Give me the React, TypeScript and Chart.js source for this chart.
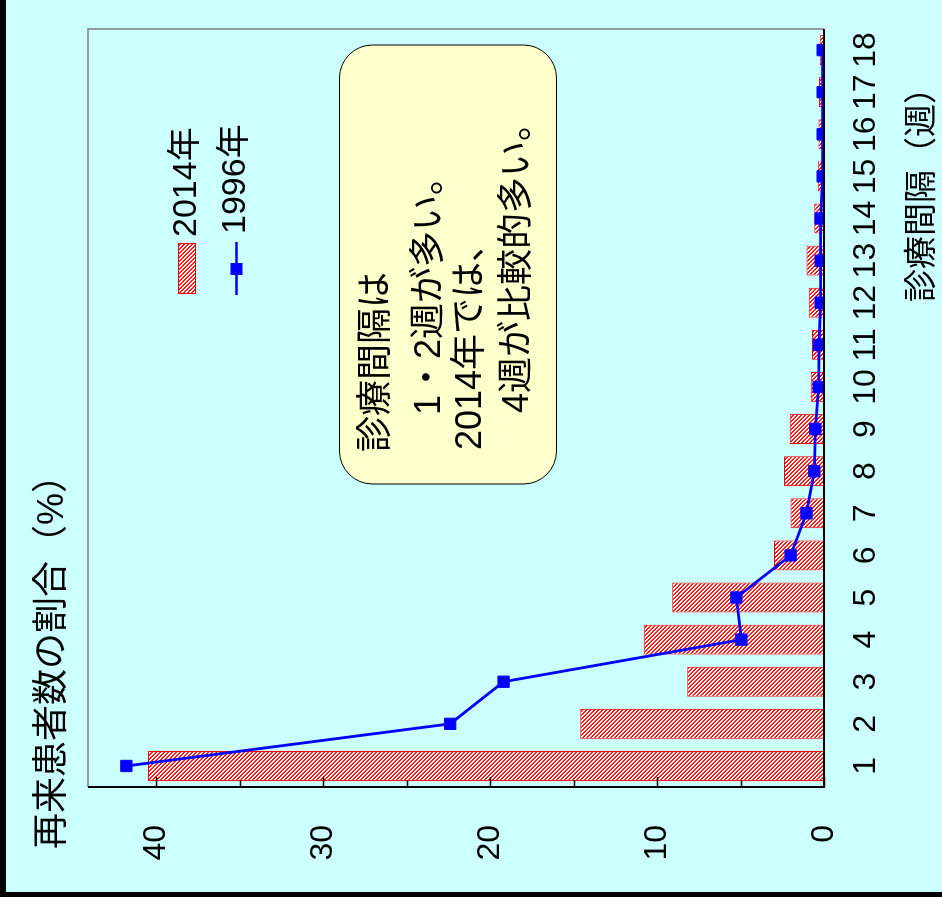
import React, { useEffect, useRef } from "react";
import { Chart, registerables } from "chart.js";

Chart.register(...registerables);

// ---- data ----
const categories = ["1", "2", "3", "4", "5", "6", "7", "8", "9", "10", "11", "12", "13", "14", "15", "16", "17", "18"];
const series2014 = [40.5, 14.6, 8.2, 10.8, 9.1, 3.0, 2.0, 2.4, 2.05, 0.8, 0.72, 0.92, 1.05, 0.58, 0.38, 0.33, 0.3, 0.25];
const series1996 = [41.8, 22.4, 19.2, 4.95, 5.25, 2.0, 1.05, 0.58, 0.52, 0.32, 0.3, 0.2, 0.2, 0.2, 0.08, 0.08, 0.08, 0.08];
const valueTicks = [0, 10, 20, 30, 40];
const minorTicks = [5, 15, 25, 35];
const legendLabels = ["2014年", "1996年"];
const titleText = "再来患者数の割合（%）";
const xTitleText = "診療間隔（週）";
const noteLines = ["診療間隔は", "1・2週が多い。", "2014年では、", "4週が比較的多い。"];

const FONT = "'Liberation Sans', 'Noto Sans CJK JP', sans-serif";
const BG = "#CCFFFF";
const RED = "#FF0000";
const BLUE = "#0000FF";

function makePattern(ctx: CanvasRenderingContext2D): CanvasPattern | string {
  const t = document.createElement("canvas");
  t.width = 4;
  t.height = 4;
  const c = t.getContext("2d");
  if (!c) return RED;
  c.fillStyle = "#FFFFFF";
  c.fillRect(0, 0, 4, 4);
  for (let i = 0; i < 4; i++) {
    c.fillStyle = RED;
    c.fillRect(i, i, 1, 1);
    c.fillStyle = "#FF3030";
    c.fillRect((i + 1) % 4, i, 1, 1);
  }
  return ctx.createPattern(t, "repeat") || RED;
}

function roundRect(ctx: CanvasRenderingContext2D, x: number, y: number, w: number, h: number, r: number) {
  ctx.beginPath();
  ctx.moveTo(x + r, y);
  ctx.lineTo(x + w - r, y);
  ctx.arcTo(x + w, y, x + w, y + r, r);
  ctx.lineTo(x + w, y + h - r);
  ctx.arcTo(x + w, y + h, x + w - r, y + h, r);
  ctx.lineTo(x + r, y + h);
  ctx.arcTo(x, y + h, x, y + h - r, r);
  ctx.lineTo(x, y + r);
  ctx.arcTo(x, y, x + r, y, r);
  ctx.closePath();
}

export default function App() {
  const ref = useRef<HTMLCanvasElement | null>(null);

  useEffect(() => {
    const canvas = ref.current;
    if (!canvas) return;
    const ctx0 = canvas.getContext("2d");
    if (!ctx0) return;
    const pattern = makePattern(ctx0);

    const bgPlugin = {
      id: "bgPlugin",
      beforeDraw(chart: any) {
        const c = chart.ctx as CanvasRenderingContext2D;
        c.save();
        c.fillStyle = BG;
        c.fillRect(0, 0, chart.width, chart.height);
        c.fillStyle = "#000000";
        c.fillRect(0, 0, chart.width, 6);
        c.fillRect(0, 0, 5, chart.height);
        c.restore();
      },
    };

    const decoPlugin = {
      id: "decoPlugin",
      afterDraw(chart: any) {
        const c = chart.ctx as CanvasRenderingContext2D;
        const a = chart.chartArea;
        const ys = chart.scales.y;
        c.save();
        // frame (gray)
        c.strokeStyle = "#808080";
        c.lineWidth = 1.5;
        c.beginPath();
        c.moveTo(a.left, a.top);
        c.lineTo(a.right, a.top);
        c.lineTo(a.right, a.bottom);
        c.stroke();
        // axes (black)
        c.strokeStyle = "#000000";
        c.lineWidth = 2;
        c.beginPath();
        c.moveTo(a.left, a.top);
        c.lineTo(a.left, a.bottom);
        c.lineTo(a.right, a.bottom);
        c.stroke();
        // inward ticks
        c.lineWidth = 1.5;
        valueTicks.forEach((v) => {
          const p = Math.round(ys.getPixelForValue(v)) + 0.5;
          c.beginPath();
          c.moveTo(a.left, p);
          c.lineTo(a.left + 10, p);
          c.stroke();
        });
        minorTicks.forEach((v) => {
          const p = Math.round(ys.getPixelForValue(v)) + 0.5;
          c.beginPath();
          c.moveTo(a.left, p);
          c.lineTo(a.left + 7, p);
          c.stroke();
        });

        // title
        c.fillStyle = "#000000";
        c.textBaseline = "middle";
        c.textAlign = "left";
        c.font = `36px ${FONT}`;
        c.fillText(titleText, 48, 53);

        // x axis title
        c.font = `33px ${FONT}`;
        c.textAlign = "right";
        c.fillText(xTitleText, 826, 923);

        // legend
        c.textAlign = "left";
        c.font = `34px ${FONT}`;
        c.fillStyle = pattern as any;
        c.fillRect(603, 178, 51, 18);
        c.strokeStyle = RED;
        c.lineWidth = 1;
        c.strokeRect(603.5, 178.5, 50, 17);
        c.fillStyle = "#000000";
        c.fillText(legendLabels[0], 660, 187);
        c.strokeStyle = BLUE;
        c.lineWidth = 2.5;
        c.beginPath();
        c.moveTo(602, 236.5);
        c.lineTo(655, 236.5);
        c.stroke();
        c.fillStyle = BLUE;
        c.fillRect(622, 230.5, 12, 12);
        c.fillStyle = "#000000";
        c.fillText(legendLabels[1], 663, 236);

        // note box
        roundRect(c, 413, 339.5, 439, 217, 33);
        c.fillStyle = "#FFFFCC";
        c.fill();
        c.strokeStyle = "#000000";
        c.lineWidth = 1;
        c.stroke();
        c.fillStyle = "#000000";
        c.font = `36px ${FONT}`;
        const noteX = [445, 482, 447, 484];
        const noteY = [377, 430, 471, 518];
        noteLines.forEach((t, i) => c.fillText(t, noteX[i], noteY[i]));
        c.restore();
      },
    };

    const chart = new Chart(canvas, {
      type: "bar",
      data: {
        labels: categories,
        datasets: [
          {
            type: "line",
            label: legendLabels[1],
            data: series1996,
            borderColor: BLUE,
            backgroundColor: BLUE,
            borderWidth: 2.8,
            pointStyle: "rect",
            pointRadius: 8,
            pointBackgroundColor: BLUE,
            pointBorderColor: BLUE,
            pointBorderWidth: 1,
            tension: 0,
            order: 0,
          } as any,
          {
            type: "bar",
            label: legendLabels[0],
            data: series2014,
            backgroundColor: pattern as any,
            borderColor: RED,
            borderWidth: 1,
            barPercentage: 0.71,
            categoryPercentage: 1,
            order: 1,
          } as any,
        ],
      },
      options: {
        responsive: false,
        animation: false,
        devicePixelRatio: 1,
        layout: { padding: { left: 0, top: 88, right: 29, bottom: 0 } },
        plugins: {
          legend: { display: false },
          tooltip: { enabled: false },
          title: { display: false },
        },
        scales: {
          x: {
            grid: { display: false },
            border: { display: false },
            ticks: {
              autoSkip: false,
              maxRotation: 0,
              minRotation: 0,
              color: "#000000",
              font: { family: FONT, size: 32 },
              padding: 15,
            },
            afterFit: (s: any) => {
              s.height = 118;
            },
          },
          y: {
            min: 0,
            max: 44.1,
            grid: { display: false },
            border: { display: false },
            ticks: {
              color: "#000000",
              font: { family: FONT, size: 32 },
              padding: 30,
              stepSize: 10,
            },
            afterBuildTicks: (s: any) => {
              s.ticks = valueTicks.map((v) => ({ value: v }));
            },
            afterFit: (s: any) => {
              s.width = 110;
            },
          },
        },
      } as any,
      plugins: [bgPlugin, decoPlugin],
    });

    return () => chart.destroy();
  }, []);

  return (
    <div
      style={{
        position: "fixed",
        left: 0,
        top: 0,
        width: 942,
        height: 897,
        overflow: "hidden",
        background: BG,
      }}
    >
      <canvas
        ref={ref}
        width={897}
        height={942}
        style={{
          position: "absolute",
          left: 0,
          top: 0,
          width: 897,
          height: 942,
          transformOrigin: "0 0",
          transform: "translateY(897px) rotate(-90deg)",
        }}
      />
    </div>
  );
}
